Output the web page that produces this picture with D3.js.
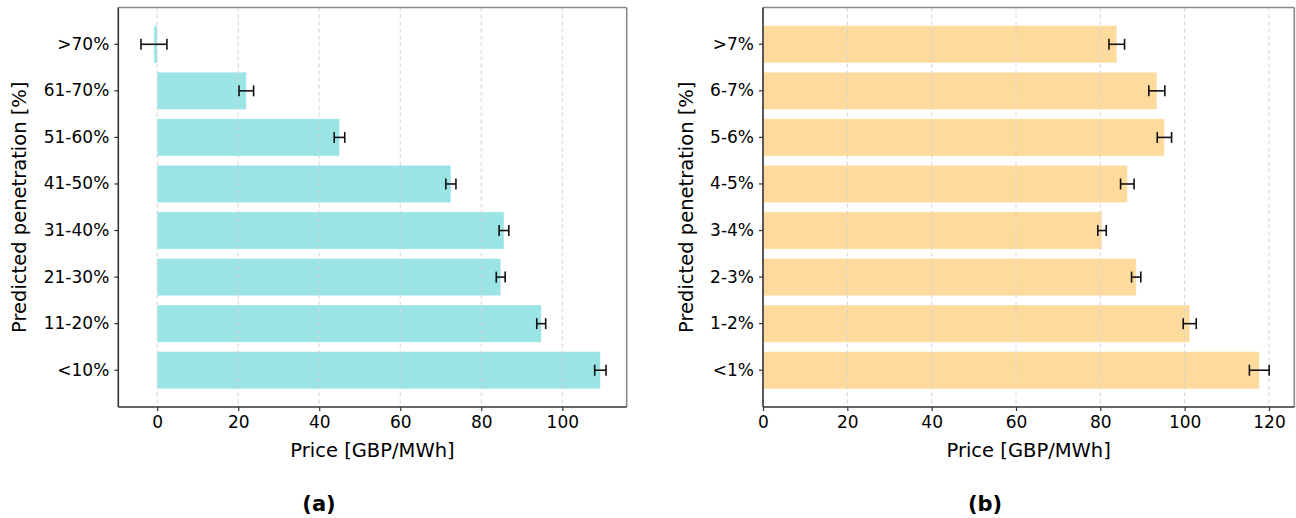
<!DOCTYPE html>
<html><head><meta charset="utf-8">
<script src="https://cdn.jsdelivr.net/npm/d3@7"></script>
<style>
body{margin:0;background:#fff;}
svg text{font-family:"DejaVu Sans",sans-serif;fill:#000;}
</style></head>
<body><svg id="c" width="1296" height="518"></svg>
<script>
// Panel (a)
const catsA = [">70%","61-70%","51-60%","41-50%","31-40%","21-30%","11-20%","<10%"];
const valsA = [-0.8, 22.0, 45.0, 72.5, 85.6, 84.8, 94.8, 109.4];
const errA  = [3.2, 1.8, 1.3, 1.25, 1.2, 1.1, 1.1, 1.4];
const ticksA = [0, 20, 40, 60, 80, 100];
// Panel (b)
const catsB = [">7%","6-7%","5-6%","4-5%","3-4%","2-3%","1-2%","<1%"];
const valsB = [83.9, 93.4, 95.2, 86.4, 80.4, 88.5, 101.2, 117.7];
const errB  = [1.85, 1.9, 1.7, 1.6, 1.0, 1.1, 1.55, 2.35];
const ticksB = [0, 20, 40, 60, 80, 100, 120];

const svg = d3.select("#c");

function panel(o){
  const g = svg.append("g");
  const x = d3.scaleLinear().domain(o.domain).range([o.left, o.right]);
  const y = d3.scaleBand().domain(o.cats).range([o.top, o.bottom]).paddingInner(0.2).paddingOuter(0.39);
  // bars
  g.selectAll("rect.bar").data(o.vals).enter().append("rect")
    .attr("x", d => Math.min(x(0), x(d)))
    .attr("width", d => Math.abs(x(d) - x(0)))
    .attr("y", (d,i) => y(o.cats[i]))
    .attr("height", y.bandwidth())
    .attr("fill", o.color)
    .attr("stroke", "#ffffff").attr("stroke-opacity", 0.35).attr("stroke-width", 1);
  // grid
  g.selectAll("line.grid").data(o.ticks).enter().append("line")
    .attr("x1", d => x(d)).attr("x2", d => x(d))
    .attr("y1", o.top).attr("y2", o.bottom)
    .attr("stroke", "#d4d4d4").attr("stroke-width", 1).attr("stroke-dasharray", "4,3");
  // error bars
  const cap = 5.5;
  o.vals.forEach((v,i) => {
    const cy = y(o.cats[i]) + y.bandwidth()/2;
    const x1 = x(v - o.errs[i]), x2 = x(v + o.errs[i]);
    g.append("line").attr("x1", x1).attr("x2", x2).attr("y1", cy).attr("y2", cy).attr("stroke","#111").attr("stroke-width",1.6);
    [x1,x2].forEach(xx => g.append("line").attr("x1", xx).attr("x2", xx).attr("y1", cy-cap).attr("y2", cy+cap).attr("stroke","#111").attr("stroke-width",1.6));
  });
  // frame
  g.append("line").attr("x1", o.left).attr("x2", o.right).attr("y1", o.top).attr("y2", o.top).attr("stroke","#888").attr("stroke-width",1.6);
  g.append("line").attr("x1", o.right).attr("x2", o.right).attr("y1", o.top).attr("y2", o.bottom).attr("stroke","#888").attr("stroke-width",1.6);
  // axes
  const xa = g.append("g").attr("transform", `translate(0,${o.bottom})`)
    .call(d3.axisBottom(x).tickValues(o.ticks).tickFormat(d3.format("d")).tickSize(4).tickPadding(5));
  xa.select(".domain").attr("stroke","#333").attr("stroke-width",1.6).attr("d", `M${o.left},0H${o.right}`);
  xa.selectAll(".tick line").attr("stroke","#333").attr("stroke-width",1.2);
  xa.selectAll(".tick text").attr("font-size", 17).attr("font-family","DejaVu Sans");
  const ya = g.append("g").attr("transform", `translate(${o.left},0)`)
    .call(d3.axisLeft(y).tickSize(4).tickPadding(5));
  ya.select(".domain").attr("stroke","#333").attr("stroke-width",1.6).attr("d", `M0,${o.top}V${o.bottom}`);
  ya.selectAll(".tick line").attr("stroke","#333").attr("stroke-width",1.2);
  ya.selectAll(".tick text").attr("font-size", 17).attr("font-family","DejaVu Sans");
  // labels
  g.append("text").attr("x", (o.left+o.right)/2).attr("y", 457).attr("text-anchor","middle")
    .attr("font-size", 19.5).text("Price [GBP/MWh]");
  g.append("text").attr("transform", `translate(${o.ylabX},${(o.top+o.bottom)/2}) rotate(-90)`)
    .attr("text-anchor","middle").attr("font-size", 19.5).text("Predicted penetration [%]");
  g.append("text").attr("x", o.capX).attr("y", 511).attr("text-anchor","middle")
    .attr("font-family","Liberation Sans, Arial, sans-serif").attr("font-weight","bold").attr("font-size", 21)
    .text(o.caption);
}

panel({cats:catsA, vals:valsA, errs:errA, ticks:ticksA, domain:[-9.6, 115.9],
  left:118.3, right:626.7, top:7.5, bottom:407, color:"#9be4e5", ylabX:26, capX:319, caption:"(a)"});
panel({cats:catsB, vals:valsB, errs:errB, ticks:ticksB, domain:[0, 126],
  left:763, right:1294.3, top:7.5, bottom:407, color:"#fedb9c", ylabX:693, capX:985, caption:"(b)"});
</script></body></html>
